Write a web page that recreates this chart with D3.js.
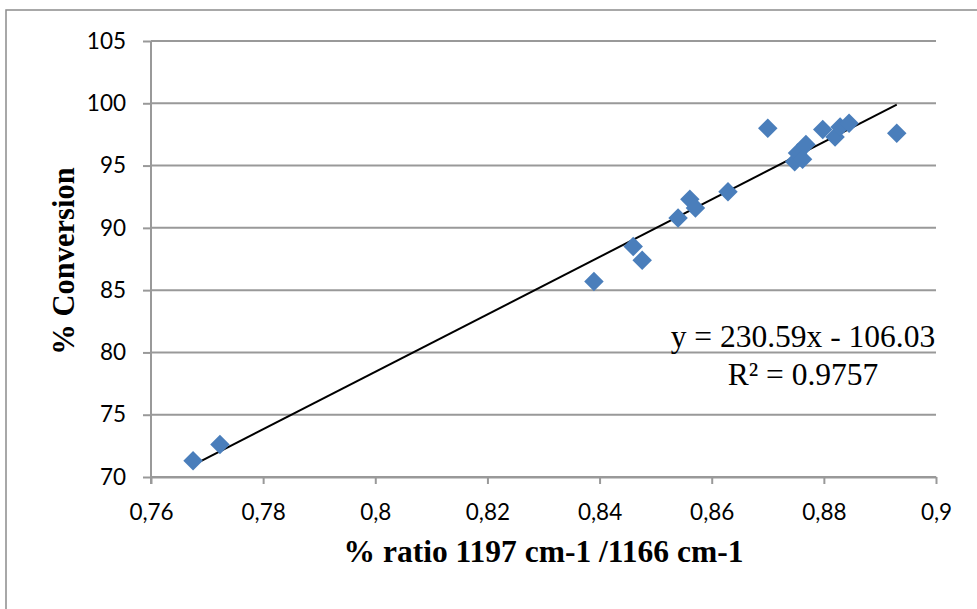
<!DOCTYPE html>
<html>
<head>
<meta charset="utf-8">
<script src="https://cdn.jsdelivr.net/npm/d3@7"></script>
<style>
  body { margin: 0; background: #fff; }
  svg { display: block; }
</style>
</head>
<body>
<svg id="chart"></svg>
<script>
// ratio 1197/1166 vs conversion
const xRatio = [0.7675, 0.7723, 0.839, 0.846, 0.8476, 0.854, 0.8561, 0.8571, 0.8629, 0.870,
  0.8748, 0.8753, 0.8762, 0.8768, 0.8798, 0.882, 0.8829, 0.8845, 0.893];
const yConversion = [71.3, 72.6, 85.7, 88.5, 87.4, 90.8, 92.3, 91.6, 92.9, 98.0,
  95.3, 96.0, 95.5, 96.7, 97.9, 97.3, 98.1, 98.4, 97.6];

const xTicks = [0.76, 0.78, 0.8, 0.82, 0.84, 0.86, 0.88, 0.9];
const yTicks = [70, 75, 80, 85, 90, 95, 100, 105];

const slope = 230.59;
const intercept = -106.03;
const rSquared = 0.9757;

const width = 977;
const height = 609;
const margin = { left: 151, right: 41, top: 41, bottom: 132 };

const svg = d3.select("#chart")
  .attr("width", width)
  .attr("height", height);

// outer chart frame
svg.append("rect")
  .attr("x", 6).attr("y", 10)
  .attr("width", 1000).attr("height", 700)
  .attr("fill", "#fff")
  .attr("stroke", "#8c8c8c")
  .attr("stroke-width", 1.5);

const x = d3.scaleLinear()
  .domain([0.76, 0.9])
  .range([margin.left, width - margin.right]);

const y = d3.scaleLinear()
  .domain([70, 105])
  .range([height - margin.bottom, margin.top]);

const fmt = d => String(+d.toFixed(2)).replace(".", ",");

// gridlines
svg.append("g")
  .selectAll("line")
  .data(yTicks)
  .join("line")
  .attr("x1", x(0.76)).attr("x2", x(0.9))
  .attr("y1", d => y(d)).attr("y2", d => y(d))
  .attr("stroke", "#999")
  .attr("stroke-width", 2);

const yAxis = svg.append("g")
  .attr("transform", `translate(${x(0.76)},0)`)
  .call(d3.axisLeft(y).tickValues(yTicks).tickSize(8).tickSizeOuter(0).tickPadding(17).tickFormat(d => d));

const xAxis = svg.append("g")
  .attr("transform", `translate(0,${y(70)})`)
  .call(d3.axisBottom(x).tickValues(xTicks).tickSize(7).tickSizeOuter(0).tickPadding(20).tickFormat(fmt));

[yAxis, xAxis].forEach(g => {
  g.selectAll("path, line").attr("stroke", "#999").attr("stroke-width", 2);
  g.selectAll("text")
    .attr("fill", "#000")
    .style("font-family", "Lato, 'Open Sans', sans-serif")
    .style("font-size", "22.5px");
});
// y axis line reaches down past the x axis like the excel chart
yAxis.select(".domain").attr("d", `M0,${y(105)}V${y(70) + 7}`);

// trendline
const [xMin, xMax] = d3.extent(xRatio);
svg.append("line")
  .attr("x1", x(xMin)).attr("y1", y(slope * xMin + intercept))
  .attr("x2", x(xMax)).attr("y2", y(slope * xMax + intercept))
  .attr("stroke", "#000")
  .attr("stroke-width", 2);

// markers
const diamond = d3.symbol().type(d3.symbolSquare).size(190);
svg.append("g")
  .selectAll("path")
  .data(xRatio.map((v, i) => [v, yConversion[i]]))
  .join("path")
  .attr("d", diamond)
  .attr("transform", d => `translate(${x(d[0])},${y(d[1])}) rotate(45)`)
  .attr("fill", "#4a7ebb");

// equation label
const eq = svg.append("g")
  .style("font-family", "'Liberation Serif', 'Times New Roman', serif")
  .style("font-size", "31.5px")
  .attr("text-anchor", "middle");
eq.append("text").attr("x", 803).attr("y", 347).text(`y = ${slope}x - ${Math.abs(intercept)}`);
eq.append("text").attr("x", 803).attr("y", 385).text(`R² = ${rSquared}`);

// axis titles
svg.append("text")
  .attr("x", (x(0.76) + x(0.9)) / 2)
  .attr("y", 562)
  .attr("text-anchor", "middle")
  .style("font-family", "'Liberation Serif', 'Times New Roman', serif")
  .style("font-weight", "bold")
  .style("font-size", "31.5px")
  .text("% ratio 1197 cm-1 /1166 cm-1");

svg.append("text")
  .attr("transform", `translate(74,261) rotate(-90)`)
  .attr("text-anchor", "middle")
  .style("font-family", "'Liberation Serif', 'Times New Roman', serif")
  .style("font-weight", "bold")
  .style("font-size", "30.5px")
  .text("% Conversion");
</script>
</body>
</html>
